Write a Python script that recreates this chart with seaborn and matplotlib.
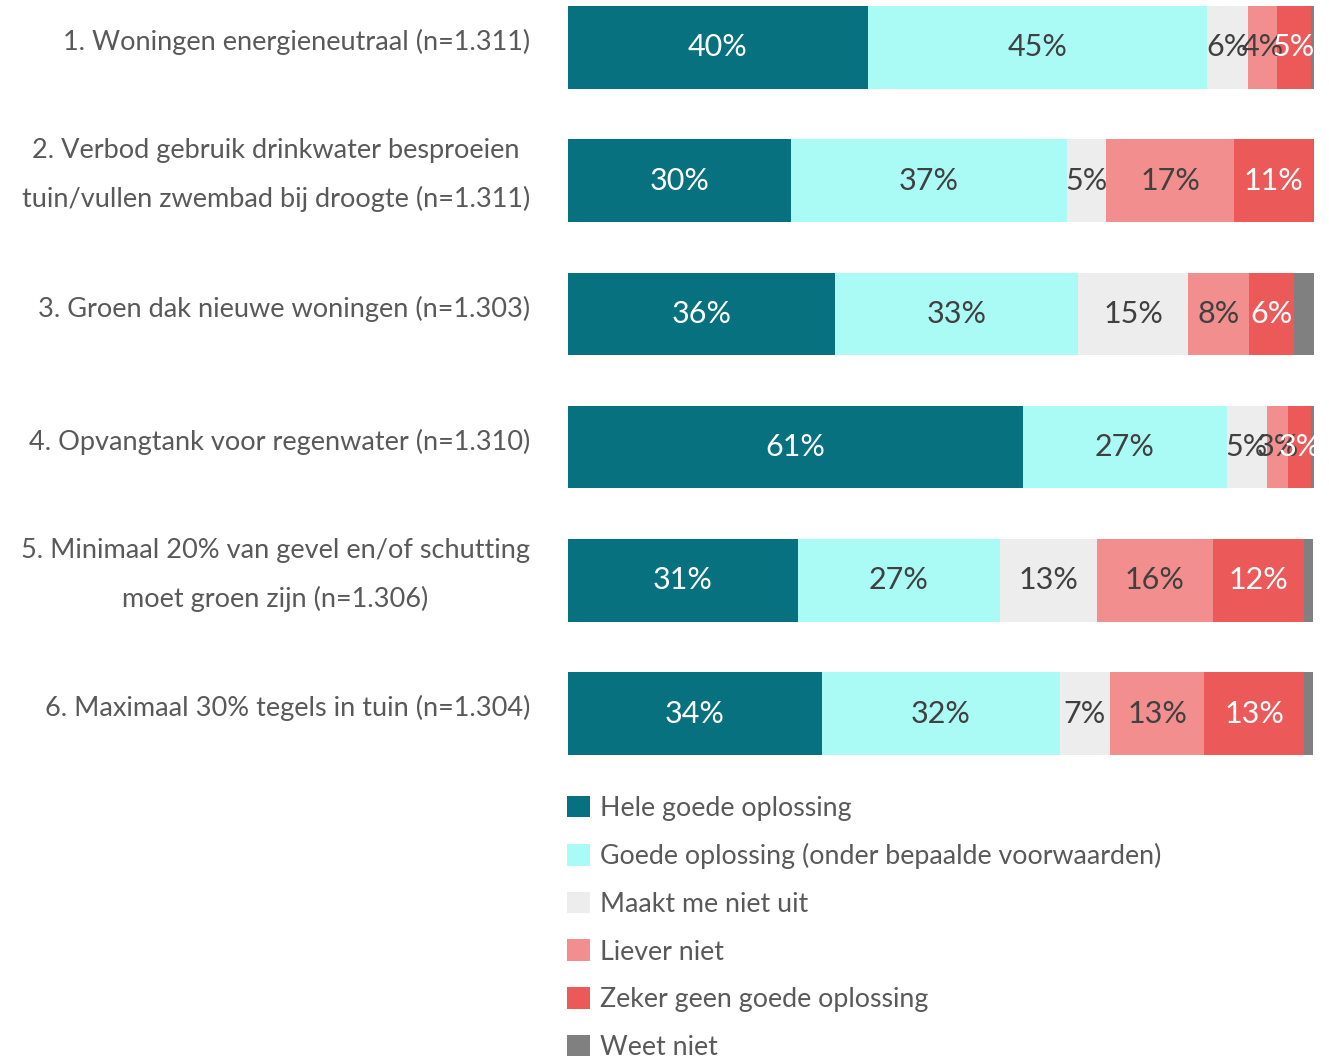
import numpy as np
import pandas as pd
import matplotlib
matplotlib.use("Agg")
import matplotlib.pyplot as plt
import seaborn as sns
from matplotlib.patches import Patch

# categories (top to bottom)
categories = [
    "1. Woningen energieneutraal (n=1.311)",
    "2. Verbod gebruik drinkwater besproeien\ntuin/vullen zwembad bij droogte (n=1.311)",
    "3. Groen dak nieuwe woningen (n=1.303)",
    "4. Opvangtank voor regenwater (n=1.310)",
    "5. Minimaal 20% van gevel en/of schutting\nmoet groen zijn (n=1.306)",
    "6. Maximaal 30% tegels in tuin (n=1.304)",
]

series = [
    "Hele goede oplossing",
    "Goede oplossing (onder bepaalde voorwaarden)",
    "Maakt me niet uit",
    "Liever niet",
    "Zeker geen goede oplossing",
    "Weet niet",
]

hele_goed = [40.2, 29.9, 35.8, 61.0, 30.8, 34.0]
goed = [45.4, 37.0, 32.6, 27.3, 27.1, 31.9]
niet_uit = [5.6, 5.2, 14.7, 5.4, 13.0, 6.8]
liever_niet = [3.8, 17.2, 8.2, 2.8, 15.5, 12.6]
zeker_geen = [4.6, 10.6, 6.0, 3.1, 12.3, 13.4]
weet_niet = [0.6, 0.3, 2.7, 0.4, 1.2, 1.2]

colors = ["#07717F", "#AAFAF6", "#EDEDED", "#F28E8E", "#EC5959", "#808080"]
label_colors = ["white", "#404040", "#404040", "#404040", "white", None]

values = [hele_goed, goed, niet_uit, liever_niet, zeker_geen, weet_niet]
df = pd.DataFrame(dict(zip(series, values)))
df["cat"] = categories
cum = df[series].cumsum(axis=1)

sns.set_style("white")
plt.rcParams["font.family"] = ["Lato", "DejaVu Sans"]
text_col = "#595959"

fig = plt.figure(figsize=(13.29, 10.60), dpi=100)
ax = fig.add_axes([568 / 1329, 1 - 755 / 1060, (1314 - 568) / 1329, 749 / 1060])

# stacked bars: draw cumulative totals from the last series backwards
for i in range(len(series) - 1, -1, -1):
    sns.barplot(x=cum[series[i]], y=df["cat"], orient="h", color=colors[i],
                saturation=1, width=0.62, linewidth=0, ax=ax)

ax.set_xlim(0, 100)
ax.set_ylim(5.31, -0.31)
ax.set_xlabel("")
ax.set_ylabel("")
ax.set_xticks([])
sns.despine(ax=ax, left=True, bottom=True)

# category labels
ax.set_yticks([])
for j, cat in enumerate(categories):
    ax.text(-38 / 7.46, j - 0.04, cat, ha="right", va="center", multialignment="center",
            fontsize=19.5, color=text_col, linespacing=2.1)

# value labels
for i, s in enumerate(series[:-1]):
    for j in range(len(categories)):
        v = df[s][j]
        x = cum[s][j] - v / 2
        ax.text(x, j, f"{v:.0f}%", ha="center", va="center",
                fontsize=22, color=label_colors[i])

handles = [Patch(facecolor=c, edgecolor="none") for c in colors]
fig.legend(handles, series, loc="upper left", bbox_to_anchor=(556 / 1329, 1 - 785 / 1060),
           frameon=False, fontsize=19.3, labelcolor=text_col, handlelength=0.86,
           handleheight=0.86, handletextpad=0.4, labelspacing=0.84, borderaxespad=0)

fig.savefig("out.png", dpi=100)
